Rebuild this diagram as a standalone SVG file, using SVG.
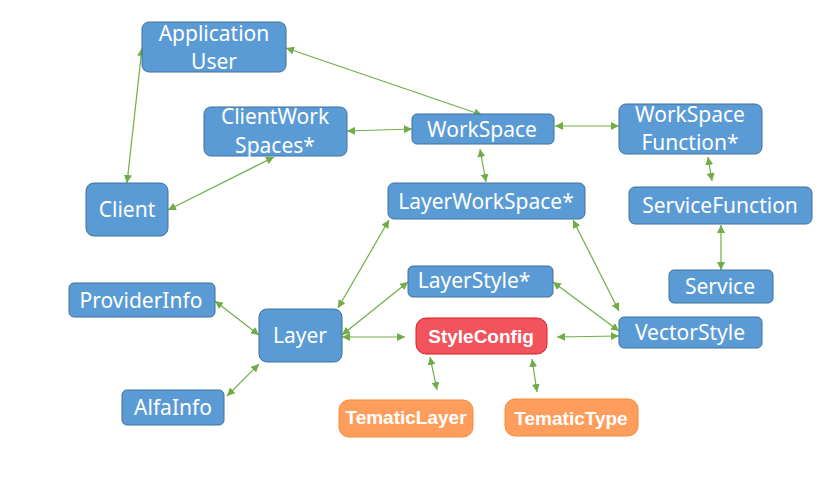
<svg xmlns="http://www.w3.org/2000/svg" width="830" height="484" viewBox="0 0 830 484">
<defs>
<marker id="ah" viewBox="0 0 10 10" refX="10" refY="5" markerWidth="8" markerHeight="8" markerUnits="userSpaceOnUse" orient="auto-start-reverse">
<path d="M0,0 L10,5 L0,10 z" fill="#70AD47"/>
</marker>
<style>
.n rect{fill:#5B9BD5;stroke:#41719C;stroke-width:1}
.n text{fill:#fff;font-family:"Noto Sans","Open Sans",sans-serif;font-size:21px;text-anchor:middle}
.r rect{fill:#F2545E;stroke:#E01A22;stroke-width:1}
.o rect{fill:#FF9E5C;stroke:#F58A3A;stroke-width:1}
.r text,.o text{fill:#fff;font-family:"Liberation Sans",Arial,sans-serif;font-weight:bold;font-size:19px;text-anchor:middle}
#edges line{stroke:#70AD47;stroke-width:1.2;marker-start:url(#ah);marker-end:url(#ah)}
</style>
</defs>
<rect width="830" height="484" fill="#fff"/>
<g id="edges">
<line x1="142" y1="48" x2="127" y2="183"/>
<line x1="286" y1="48" x2="482" y2="115"/>
<line x1="347" y1="131" x2="412" y2="129"/>
<line x1="274" y1="157" x2="168" y2="210"/>
<line x1="555" y1="126" x2="619" y2="126"/>
<line x1="480" y1="149" x2="486" y2="182"/>
<line x1="708" y1="157" x2="712" y2="181"/>
<line x1="721" y1="225" x2="721" y2="270"/>
<line x1="389" y1="220" x2="338" y2="308"/>
<line x1="573" y1="220" x2="619" y2="311"/>
<line x1="408" y1="282" x2="342" y2="335"/>
<line x1="342" y1="337" x2="405" y2="337"/>
<line x1="553" y1="282" x2="619" y2="331"/>
<line x1="557" y1="337" x2="619" y2="336"/>
<line x1="215" y1="301" x2="259" y2="335"/>
<line x1="227" y1="396" x2="259" y2="364"/>
<line x1="430" y1="357" x2="437" y2="390"/>
<line x1="532" y1="359" x2="537" y2="392"/>
</g>
<g id="app-user" class="n"><rect x="142" y="22" width="144" height="50" rx="7"/><text x="214" y="41">Application</text><text x="214" y="69">User</text></g>
<g id="client-workspaces" class="n"><rect x="204" y="107" width="143" height="49" rx="7"/><text x="275" y="124">ClientWork</text><text x="275" y="153">Spaces*</text></g>
<g id="client" class="n"><rect x="86" y="183" width="82" height="53" rx="8"/><text x="127" y="217">Client</text></g>
<g id="workspace" class="n"><rect x="412" y="114" width="142" height="30" rx="5"/><text x="482" y="137">WorkSpace</text></g>
<g id="workspace-function" class="n"><rect x="619" y="104" width="143" height="50" rx="7"/><text x="690" y="122">WorkSpace</text><text x="690" y="150">Function*</text></g>
<g id="layer-workspace" class="n"><rect x="388" y="183" width="197" height="36" rx="6"/><text x="486" y="209">LayerWorkSpace*</text></g>
<g id="service-function" class="n"><rect x="629" y="187" width="183" height="37" rx="6"/><text x="720" y="213">ServiceFunction</text></g>
<g id="layer-style" class="n"><rect x="408" y="266" width="145" height="31" rx="5"/><text x="474" y="288">LayerStyle*</text></g>
<g id="service" class="n"><rect x="669" y="270" width="104" height="33" rx="5"/><text x="720" y="294">Service</text></g>
<g id="provider-info" class="n"><rect x="69" y="283" width="146" height="34" rx="5"/><text x="141" y="308">ProviderInfo</text></g>
<g id="layer" class="n"><rect x="259" y="309" width="83" height="53" rx="8"/><text x="300" y="343">Layer</text></g>
<g id="alfa-info" class="n"><rect x="122" y="390" width="102" height="35" rx="5"/><text x="173" y="415">AlfaInfo</text></g>
<g id="vector-style" class="n"><rect x="619" y="317" width="143" height="31" rx="5"/><text x="690" y="340">VectorStyle</text></g>
<g id="style-config" class="r"><rect x="416" y="318" width="131" height="36" rx="10"/><text x="481" y="343">StyleConfig</text></g>
<g id="tematic-layer" class="o"><rect x="339" y="400" width="134" height="37" rx="10"/><text x="406" y="424">TematicLayer</text></g>
<g id="tematic-type" class="o"><rect x="505" y="399" width="133" height="37" rx="10"/><text x="571" y="425">TematicType</text></g>
</svg>
